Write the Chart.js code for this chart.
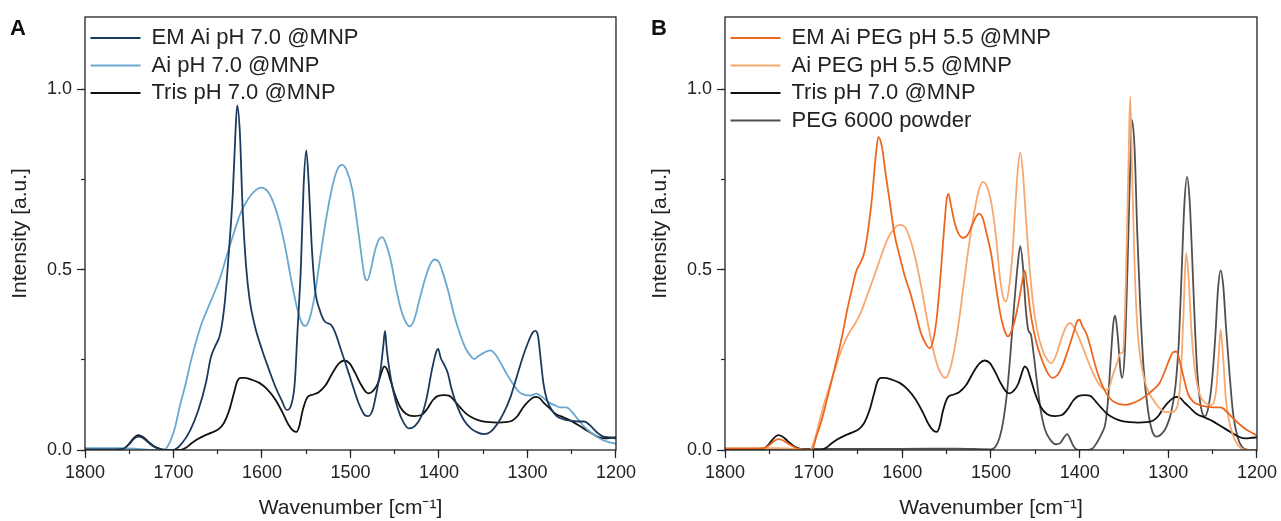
<!DOCTYPE html>
<html>
<head>
<meta charset="utf-8">
<script src="https://cdn.jsdelivr.net/npm/chart.js@4.4.1/dist/chart.umd.min.js"></script>
<style>
  body { margin: 0; background: #fff; }
  #wrap { position: relative; width: 1281px; height: 521px; overflow: hidden; }
  canvas { position: absolute; top: 0; }
  .tag { position: absolute; top: 17px; font: bold 22px/22px 'Liberation Sans', Arial, sans-serif; color: #111; }
</style>
</head>
<body>
<div id="wrap">
  <canvas id="chartA" width="640" height="521" style="left:0"></canvas>
  <canvas id="chartB" width="641" height="521" style="left:640px"></canvas>
  <div class="tag" style="left:10px">A</div>
  <div class="tag" style="left:651px">B</div>
</div>
<script>
// wavenumbers (cm-1) and intensities
const trisWn = [1800, 1765, 1756, 1750, 1745, 1740, 1735, 1729, 1722, 1714, 1705, 1692, 1686, 1680, 1673, 1665, 1657, 1649, 1643, 1637, 1632, 1628, 1624, 1620, 1612, 1603, 1594, 1585, 1577, 1570, 1565, 1561, 1558, 1554, 1549, 1543, 1536, 1528, 1520, 1513, 1507, 1501, 1495, 1489, 1483, 1479, 1474, 1469, 1465, 1462, 1459, 1455, 1450, 1444, 1437, 1428, 1420, 1413, 1407, 1401, 1394, 1388, 1382, 1376, 1369, 1361, 1352, 1343, 1334, 1325, 1317, 1311, 1305, 1299, 1294, 1290, 1286, 1282, 1276, 1268, 1259, 1250, 1240, 1230, 1220, 1212, 1206, 1200];
const trisVal = [0.002, 0.002, 0.004, 0.018, 0.033, 0.041, 0.037, 0.024, 0.01, 0.002, 0.0, 0.0, 0.006, 0.018, 0.03, 0.04, 0.048, 0.058, 0.075, 0.11, 0.155, 0.19, 0.2, 0.2, 0.195, 0.186, 0.168, 0.14, 0.105, 0.07, 0.054, 0.05, 0.065, 0.11, 0.145, 0.153, 0.16, 0.18, 0.215, 0.24, 0.248, 0.24, 0.215, 0.185, 0.162, 0.157, 0.165, 0.185, 0.215, 0.232, 0.225, 0.195, 0.155, 0.12, 0.1, 0.094, 0.097, 0.115, 0.138, 0.15, 0.152, 0.15, 0.135, 0.118, 0.1, 0.088, 0.08, 0.077, 0.076, 0.077, 0.082, 0.095, 0.118, 0.135, 0.145, 0.147, 0.143, 0.132, 0.118, 0.1, 0.09, 0.08, 0.065, 0.05, 0.036, 0.032, 0.034, 0.035];

const emAiWn = [1800, 1765, 1756, 1750, 1745, 1740, 1735, 1729, 1722, 1714, 1705, 1700, 1690, 1681, 1672, 1663, 1658, 1653, 1647, 1642, 1638, 1633, 1630, 1628, 1625, 1622, 1618, 1614, 1608, 1600, 1592, 1585, 1578, 1572, 1567, 1563, 1560, 1556, 1553, 1550, 1547, 1544, 1540, 1535, 1529, 1522, 1517, 1512, 1507, 1502, 1496, 1490, 1484, 1480, 1475, 1470, 1466, 1463, 1461, 1459, 1456, 1452, 1446, 1440, 1434, 1427, 1420, 1414, 1408, 1403, 1401, 1398, 1394, 1390, 1386, 1380, 1372, 1364, 1356, 1349, 1342, 1335, 1327, 1319, 1312, 1305, 1299, 1294, 1291, 1288, 1285, 1282, 1278, 1273, 1267, 1259, 1250, 1242, 1236, 1230, 1222, 1214, 1207, 1200];
const emAiVal = [0.002, 0.002, 0.004, 0.016, 0.03, 0.037, 0.034, 0.022, 0.009, 0.002, 0.0, 0.0, 0.02, 0.055, 0.11, 0.19, 0.255, 0.287, 0.324, 0.41, 0.53, 0.71, 0.88, 0.955, 0.88, 0.675, 0.51, 0.417, 0.343, 0.278, 0.222, 0.176, 0.139, 0.111, 0.125, 0.185, 0.324, 0.51, 0.73, 0.83, 0.73, 0.574, 0.444, 0.39, 0.356, 0.347, 0.324, 0.287, 0.25, 0.213, 0.167, 0.125, 0.097, 0.094, 0.111, 0.167, 0.222, 0.287, 0.33, 0.278, 0.222, 0.167, 0.111, 0.076, 0.06, 0.067, 0.093, 0.143, 0.222, 0.273, 0.28, 0.255, 0.236, 0.213, 0.171, 0.125, 0.083, 0.06, 0.048, 0.044, 0.05, 0.069, 0.102, 0.148, 0.204, 0.26, 0.3, 0.326, 0.33, 0.315, 0.25, 0.185, 0.139, 0.113, 0.094, 0.085, 0.081, 0.079, 0.079, 0.07, 0.05, 0.037, 0.035, 0.032];

const aiWn = [1800, 1760, 1740, 1722, 1712, 1708, 1703, 1698, 1693, 1687, 1681, 1675, 1668, 1661, 1654, 1647, 1640, 1632, 1624, 1616, 1608, 1601, 1594, 1587, 1580, 1574, 1567, 1561, 1555, 1551, 1546, 1540, 1534, 1527, 1520, 1514, 1509, 1504, 1498, 1493, 1488, 1484, 1481, 1477, 1473, 1468, 1464, 1459, 1454, 1449, 1443, 1437, 1433, 1428, 1422, 1416, 1410, 1405, 1400, 1395, 1389, 1383, 1376, 1370, 1364, 1360, 1355, 1349, 1342, 1336, 1330, 1324, 1317, 1310, 1303, 1296, 1290, 1284, 1277, 1270, 1263, 1256, 1250, 1243, 1236, 1228, 1220, 1210, 1200];
const aiVal = [0.005, 0.005, 0.003, 0.0, 0.0, 0.005, 0.028, 0.065, 0.12, 0.176, 0.24, 0.296, 0.352, 0.394, 0.435, 0.48, 0.537, 0.6, 0.657, 0.694, 0.718, 0.727, 0.718, 0.685, 0.63, 0.565, 0.472, 0.4, 0.352, 0.344, 0.366, 0.435, 0.537, 0.648, 0.736, 0.782, 0.79, 0.773, 0.722, 0.64, 0.546, 0.48, 0.47, 0.5, 0.546, 0.583, 0.59, 0.565, 0.52, 0.454, 0.39, 0.352, 0.343, 0.361, 0.417, 0.472, 0.514, 0.528, 0.52, 0.486, 0.435, 0.375, 0.32, 0.282, 0.26, 0.252, 0.261, 0.27, 0.276, 0.264, 0.24, 0.213, 0.185, 0.162, 0.153, 0.151, 0.156, 0.148, 0.134, 0.125, 0.118, 0.118, 0.106, 0.085, 0.065, 0.048, 0.034, 0.023, 0.017];

const emPegWn = [1800, 1765, 1756, 1750, 1744, 1740, 1735, 1727, 1718, 1708, 1702, 1697, 1692, 1686, 1680, 1674, 1668, 1662, 1657, 1652, 1647, 1643, 1638, 1634, 1630, 1627, 1623, 1619, 1614, 1609, 1603, 1597, 1591, 1585, 1579, 1573, 1569, 1565, 1561, 1557, 1553, 1550, 1548, 1545, 1541, 1536, 1531, 1526, 1521, 1516, 1513, 1509, 1505, 1500, 1495, 1490, 1485, 1481, 1477, 1473, 1469, 1465, 1462, 1459, 1456, 1452, 1447, 1441, 1436, 1431, 1425, 1419, 1413, 1407, 1403, 1400, 1397, 1392, 1388, 1383, 1377, 1370, 1363, 1355, 1348, 1340, 1332, 1324, 1317, 1310, 1304, 1299, 1295, 1291, 1287, 1283, 1278, 1272, 1265, 1257, 1249, 1241, 1234, 1227, 1220, 1213, 1206, 1200];
const emPegVal = [0.004, 0.004, 0.005, 0.014, 0.026, 0.03, 0.027, 0.015, 0.004, 0.0, 0.0, 0.037, 0.074, 0.13, 0.19, 0.25, 0.315, 0.39, 0.444, 0.495, 0.52, 0.546, 0.62, 0.704, 0.815, 0.868, 0.84, 0.768, 0.685, 0.6, 0.537, 0.48, 0.435, 0.38, 0.324, 0.292, 0.282, 0.306, 0.37, 0.48, 0.61, 0.694, 0.71, 0.676, 0.63, 0.597, 0.588, 0.597, 0.625, 0.65, 0.655, 0.64, 0.6, 0.546, 0.463, 0.384, 0.333, 0.315, 0.329, 0.361, 0.407, 0.463, 0.498, 0.454, 0.39, 0.333, 0.282, 0.24, 0.213, 0.2, 0.208, 0.236, 0.278, 0.324, 0.356, 0.361, 0.343, 0.32, 0.287, 0.24, 0.194, 0.157, 0.136, 0.127, 0.125, 0.13, 0.139, 0.153, 0.167, 0.185, 0.218, 0.25, 0.27, 0.273, 0.245, 0.204, 0.157, 0.134, 0.125, 0.12, 0.118, 0.118, 0.106, 0.088, 0.072, 0.058, 0.048, 0.04];

const aiPegWn = [1800, 1760, 1740, 1720, 1708, 1704, 1699, 1694, 1688, 1682, 1675, 1668, 1661, 1654, 1647, 1640, 1632, 1624, 1617, 1610, 1603, 1597, 1591, 1585, 1578, 1572, 1566, 1560, 1555, 1551, 1547, 1542, 1537, 1531, 1525, 1519, 1514, 1509, 1504, 1499, 1494, 1490, 1486, 1483, 1480, 1476, 1473, 1470, 1467, 1464, 1461, 1457, 1453, 1448, 1442, 1436, 1432, 1427, 1421, 1415, 1411, 1406, 1400, 1394, 1388, 1381, 1374, 1368, 1363, 1358, 1354, 1351, 1348, 1345, 1343, 1341, 1338, 1335, 1330, 1324, 1317, 1310, 1303, 1296, 1290, 1286, 1283, 1280, 1277, 1274, 1270, 1265, 1258, 1251, 1246, 1243, 1241, 1238, 1235, 1230, 1224, 1218, 1210, 1200];
const aiPegVal = [0.005, 0.005, 0.005, 0.003, 0.0, 0.0, 0.028, 0.074, 0.13, 0.176, 0.231, 0.282, 0.32, 0.347, 0.38, 0.426, 0.48, 0.537, 0.583, 0.611, 0.624, 0.618, 0.583, 0.528, 0.444, 0.361, 0.287, 0.231, 0.206, 0.2, 0.218, 0.268, 0.343, 0.454, 0.565, 0.657, 0.718, 0.743, 0.727, 0.676, 0.583, 0.48, 0.421, 0.412, 0.444, 0.537, 0.657, 0.769, 0.824, 0.769, 0.657, 0.52, 0.417, 0.333, 0.278, 0.248, 0.24, 0.26, 0.306, 0.343, 0.352, 0.338, 0.306, 0.268, 0.231, 0.194, 0.171, 0.167, 0.204, 0.24, 0.268, 0.273, 0.46, 0.787, 0.98, 0.787, 0.51, 0.343, 0.231, 0.171, 0.139, 0.116, 0.105, 0.105, 0.12, 0.204, 0.37, 0.546, 0.472, 0.333, 0.222, 0.157, 0.13, 0.125, 0.167, 0.268, 0.333, 0.25, 0.139, 0.065, 0.023, 0.005, 0.0, 0.0];

const pegWn = [1800, 1700, 1600, 1540, 1500, 1495, 1490, 1486, 1482, 1478, 1474, 1470, 1467, 1464, 1461, 1458, 1455, 1452, 1448, 1444, 1439, 1433, 1427, 1422, 1417, 1414, 1411, 1407, 1402, 1392, 1385, 1380, 1375, 1371, 1368, 1365, 1362, 1360, 1357, 1354, 1352, 1349, 1346, 1343, 1341, 1338, 1335, 1332, 1328, 1323, 1318, 1313, 1307, 1302, 1297, 1292, 1288, 1285, 1282, 1279, 1276, 1273, 1270, 1267, 1263, 1259, 1255, 1251, 1247, 1244, 1241, 1238, 1235, 1231, 1227, 1222, 1217, 1210, 1200];
const pegVal = [0.003, 0.003, 0.003, 0.004, 0.002, 0.009, 0.037, 0.083, 0.157, 0.268, 0.398, 0.51, 0.565, 0.51, 0.398, 0.333, 0.32, 0.268, 0.185, 0.111, 0.056, 0.028, 0.016, 0.019, 0.037, 0.044, 0.032, 0.011, 0.0, 0.0, 0.005, 0.023, 0.046, 0.074, 0.139, 0.25, 0.352, 0.372, 0.315, 0.222, 0.2, 0.278, 0.51, 0.787, 0.915, 0.833, 0.6, 0.417, 0.231, 0.111, 0.051, 0.037, 0.046, 0.065, 0.102, 0.176, 0.306, 0.49, 0.676, 0.757, 0.694, 0.528, 0.343, 0.204, 0.116, 0.093, 0.116, 0.185, 0.315, 0.444, 0.498, 0.454, 0.343, 0.213, 0.102, 0.037, 0.009, 0.0, 0.0];

const xTicks = { min: 1200, max: 1800, major: 100, minor: 50 };
const yTicks = { min: 0, max: 1.2, major: 0.5, minor: 0.25 };

const FONT = "'Liberation Sans', Arial, sans-serif";
const INK = '#222';

const framePlugin = {
  id: 'frame',
  afterDatasetsDraw(chart) {
    const { ctx, chartArea: a } = chart;
    ctx.save();
    ctx.strokeStyle = INK;
    ctx.lineWidth = 1.3;
    ctx.strokeRect(a.left, a.top, a.right - a.left, a.bottom - a.top);
    ctx.restore();
  }
};

function pts(wn, val) {
  return wn.map((w, i) => ({ x: w, y: val[i] }));
}

function makePanel(id, series) {
  new Chart(document.getElementById(id), {
    type: 'line',
    data: {
      datasets: series.map(s => ({
        label: s.label,
        data: pts(s.wn, s.val),
        borderColor: s.color,
        backgroundColor: s.color,
        borderWidth: 1.8,
        pointRadius: 0,
        fill: false,
        cubicInterpolationMode: 'monotone'
      }))
    },
    options: {
      responsive: false,
      animation: false,
      events: [],
      layout: { padding: { top: 17, right: 19, bottom: 0, left: 0 } },
      scales: {
        x: {
          type: 'linear', reverse: true, min: xTicks.min, max: xTicks.max,
          position: 'bottom', weight: 1,
          afterFit: s => { s.height = 71; },
          border: { display: false },
          grid: { drawOnChartArea: false, tickLength: 8, color: INK, tickWidth: 1.2 },
          ticks: { stepSize: xTicks.major, maxTicksLimit: 100, padding: 4, maxRotation: 0, color: INK,
                   font: { family: FONT, size: 18 }, callback: v => String(v) },
          title: { display: true, text: 'Wavenumber [cm⁻¹]', color: INK,
                   font: { family: FONT, size: 21, lineHeight: 1 }, padding: { top: 0, bottom: 2 } }
        },
        xMinor: {
          type: 'linear', reverse: true, min: xTicks.min, max: xTicks.max,
          position: 'bottom', weight: 0,
          afterFit: s => { s.height = 0; },
          border: { display: false },
          grid: { drawOnChartArea: false, tickLength: 4, color: INK, tickWidth: 1.2 },
          ticks: { stepSize: xTicks.minor, maxTicksLimit: 100, display: false }
        },
        y: {
          min: yTicks.min, max: yTicks.max, position: 'left', weight: 1,
          afterFit: s => { s.width = 85; },
          border: { display: false },
          grid: { drawOnChartArea: false, tickLength: 8, color: INK, tickWidth: 1.2 },
          ticks: { stepSize: yTicks.major, includeBounds: false, padding: 5, color: INK,
                   font: { family: FONT, size: 18 }, callback: v => v.toFixed(1) },
          title: { display: true, text: 'Intensity [a.u.]', color: INK,
                   font: { family: FONT, size: 21, lineHeight: 1 }, padding: { top: 9.5, bottom: 0 } }
        },
        yMinor: {
          min: yTicks.min, max: yTicks.max, position: 'left', weight: 0,
          afterFit: s => { s.width = 0; },
          border: { display: false },
          grid: { drawOnChartArea: false, tickLength: 4, color: INK, tickWidth: 1.2 },
          ticks: { stepSize: yTicks.minor, includeBounds: false, display: false }
        }
      },
      plugins: {
        legend: {
          position: 'chartArea',
          align: 'start',
          // empty title only pushes the entries down below the frame top
          title: { display: true, text: '', font: { size: 21.5, lineHeight: 1 }, padding: 0 },
          labels: {
            usePointStyle: true, pointStyle: 'line', pointStyleWidth: 50,
            padding: 5.5, color: INK, font: { family: FONT, size: 22 }
          }
        },
        tooltip: { enabled: false }
      }
    },
    plugins: [framePlugin]
  });
}

makePanel('chartA', [
  { label: 'EM Ai pH 7.0 @MNP', wn: emAiWn, val: emAiVal, color: '#1c3a5e' },
  { label: 'Ai pH 7.0 @MNP', wn: aiWn, val: aiVal, color: '#6aa8cd' },
  { label: 'Tris pH 7.0 @MNP', wn: trisWn, val: trisVal, color: '#111111' }
]);

makePanel('chartB', [
  { label: 'EM Ai PEG pH 5.5 @MNP', wn: emPegWn, val: emPegVal, color: '#ec681f' },
  { label: 'Ai PEG pH 5.5 @MNP', wn: aiPegWn, val: aiPegVal, color: '#f8a86e' },
  { label: 'Tris pH 7.0 @MNP', wn: trisWn, val: trisVal, color: '#111111' },
  { label: 'PEG 6000 powder', wn: pegWn, val: pegVal, color: '#505050' }
]);
</script>
</body>
</html>
